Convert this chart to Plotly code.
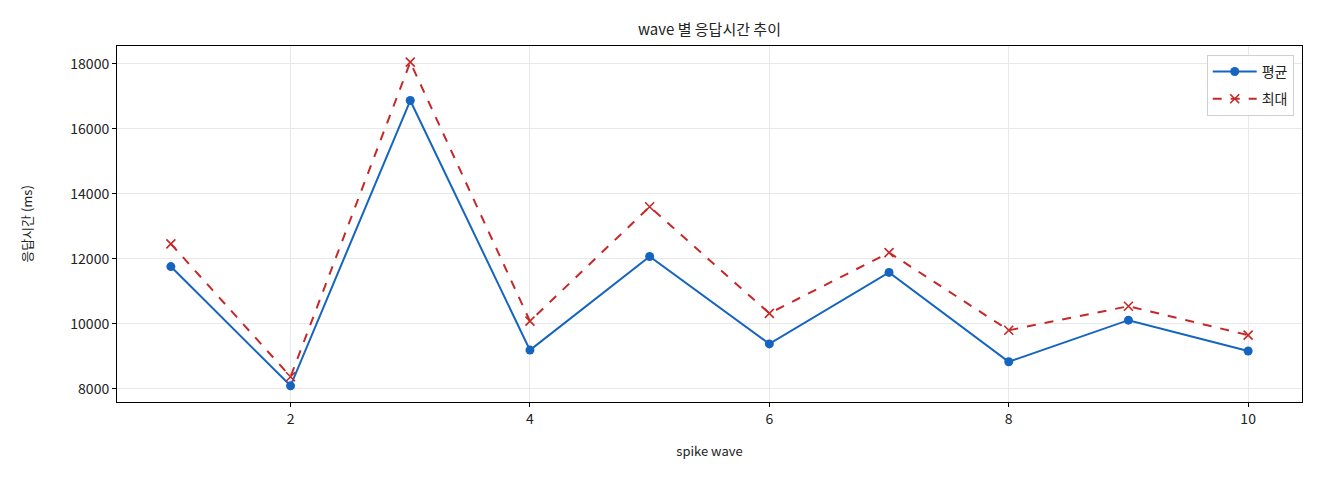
import plotly.graph_objects as go

waves = [1, 2, 3, 4, 5, 6, 7, 8, 9, 10]
avg_ms = [11760, 8090, 16870, 9190, 12070, 9380, 11580, 8830, 10110, 9160]
max_ms = [12460, 8370, 18050, 10080, 13600, 10320, 12190, 9800, 10540, 9650]

FONT = "Noto Sans CJK KR"


def pad(lo, hi, frac=0.05):
    d = (hi - lo) * frac
    return [lo - d, hi + d]


fig = go.Figure()
fig.add_trace(go.Scatter(
    x=waves, y=avg_ms, name="평균", mode="lines+markers", legendgroup="avg",
    line=dict(color="#1565c0", width=2),
    marker=dict(symbol="circle", size=9, color="#1565c0"),
))
fig.add_trace(go.Scatter(
    x=waves, y=max_ms, name="최대", mode="lines+markers", legendgroup="max",
    line=dict(color="#c62828", width=2, dash="dash"),
    marker=dict(symbol="x-thin", size=9, color="#c62828",
                line=dict(color="#c62828", width=1.6)),
))

axis_style = dict(
    showline=True, linecolor="black", linewidth=1, mirror=True,
    ticks="outside", ticklen=4, tickcolor="black",
    showgrid=True, gridcolor="#e8e8e8", gridwidth=1,
    zeroline=False, tickfont=dict(size=14, color="#222"),
    automargin=False,
)

# page body has an 8px margin, so the figure is offset by that much
fig.update_layout(
    width=1320, height=480,
    margin=dict(l=109, r=26, t=38, b=86),
    paper_bgcolor="white", plot_bgcolor="white",
    font=dict(family=FONT, color="#222"),
    title=dict(text="wave 별 응답시간 추이", x=0.5314, xanchor="center",
               y=0.954, yanchor="middle", font=dict(size=15)),
    xaxis=dict(range=pad(min(waves), max(waves)), dtick=2, tick0=0,
               title=dict(text="spike wave", font=dict(size=13), standoff=20),
               **axis_style),
    yaxis=dict(range=pad(min(avg_ms + max_ms), max(avg_ms + max_ms)), dtick=2000,
               tickformat="d",
               title=dict(text="응답시간 (ms)", font=dict(size=13), standoff=34),
               **axis_style),
    legend=dict(x=0.993, y=0.975, xanchor="right", yanchor="top", itemwidth=44,
                tracegroupgap=6,
                bgcolor="rgba(255,255,255,0.8)", bordercolor="#d0d0d0", borderwidth=1,
                font=dict(size=14)),
)

fig.write_html("out.html")
